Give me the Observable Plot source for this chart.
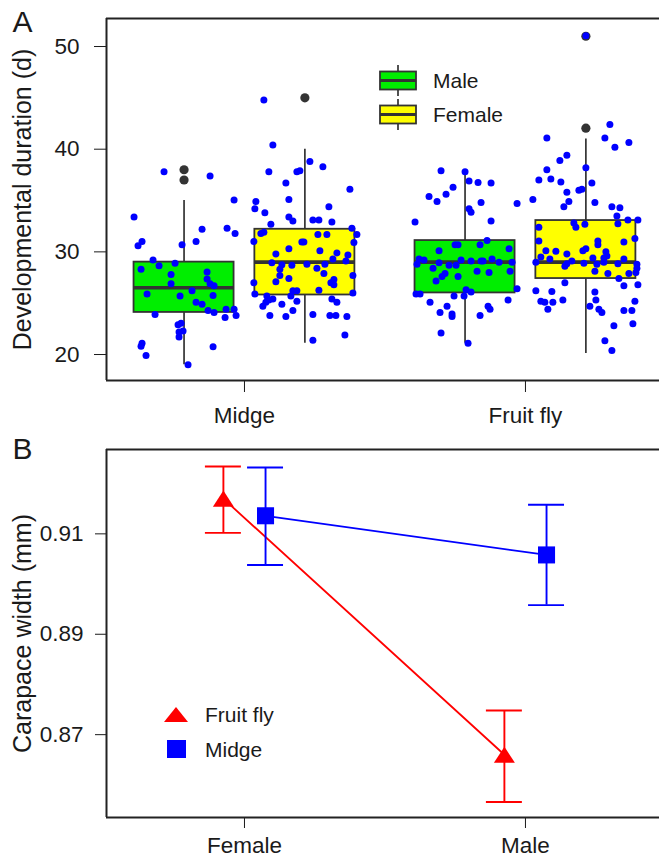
<!DOCTYPE html>
<html>
<head>
<meta charset="utf-8">
<script src="https://cdn.jsdelivr.net/npm/d3@7"></script>
<script src="https://cdn.jsdelivr.net/npm/@observablehq/plot@0.6"></script>
<style>
  body { margin: 0; background: #fff; }
  #chart { width: 659px; }
  #chart svg { display: block; }
</style>
</head>
<body>
<div id="chart"></div>
<script>
// ---------------- Panel A data ----------------
const species = ["Midge", "Fruit fly"];
const sexes = ["Male", "Female"];

const boxSpecies = ["Midge", "Midge", "Fruit fly", "Fruit fly"];
const boxSex = ["Male", "Female", "Male", "Female"];
const q1 = [24.1, 25.8, 26.0, 27.4];
const median = [26.5, 29.0, 29.0, 29.0];
const q3 = [29.0, 32.2, 31.1, 33.05];
const whiskerLow = [19.0, 21.1, 21.1, 20.1];
const whiskerHigh = [35.0, 40.0, 37.8, 41.0];
const outliers = [[37.0, 38.0], [45.0], [], [42.05, 51.0]];

const midgeMaleDays = [37.8,37.4,35.05,33.4,32.2,32.3,31.8,31.0,30.6,31.0,30.7,29.2,28.9,28.65,28.3,27.8,28.05,27.35,26.9,26.9,26.7,25.9,25.7,26.2,25.75,25.1,24.9,24.3,24.1,24.4,24.4,23.6,23.8,23.9,23.05,22.9,22.3,22.2,21.7,21.1,20.8,19.9,20.75,19.0];
const midgeMaleJitter = [-0.20,0.26,0.50,-0.50,0.18,0.43,0.51,-0.42,-0.46,0.12,-0.02,-0.31,-0.09,-0.25,-0.43,-0.13,0.23,0.23,-0.13,0.26,0.30,-0.37,-0.04,0.08,0.29,0.12,0.18,0.24,0.30,0.42,0.50,0.41,0.52,-0.29,-0.03,-0.06,-0.01,-0.05,-0.05,-0.42,-0.43,-0.38,0.29,0.04];

const midgeFemaleDays = [44.8,40.4,38.8,38.3,37.8,37.8,37.9,36.7,36.1,35.1,
  34.9,34.2,33.8,34.4,33.4,33.0,32.7,33.1,33.1,32.9,
  32.3,31.7,30.9,31.8,31.9,31.0,31.7,31.7,30.95,30.95,
  30.3,30.1,29.8,29.9,29.7,29.3,29.1,28.95,28.75,28.7,
  28.8,28.8,28.3,28.4,27.9,27.7,27.7,27.4,27.1,27.0,
  27.3,27.0,26.8,26.2,26.2,26.25,25.7,25.9,25.7,26.0,
  25.3,25.4,25.2,25.1,24.7,24.9,25.4,25.1,24.3,23.8,
  23.7,23.9,23.8,23.8,23.7,21.9,21.4];
const midgeFemaleJitter = [-0.41,-0.32,0.05,0.18,-0.36,-0.08,-0.05,-0.19,0.45,-0.16,
  -0.49,-0.50,-0.40,0.24,-0.16,-0.12,-0.34,0.08,0.14,0.27,
  0.47,0.52,0.49,-0.44,-0.41,-0.51,0.13,0.22,-0.03,-0.01,
  -0.16,0.15,-0.29,0.32,0.43,0.28,0.41,-0.33,-0.23,-0.13,
  0.02,0.20,-0.25,0.12,0.19,-0.25,0.48,-0.16,-0.29,-0.51,
  0.29,0.26,0.29,-0.12,-0.08,0.14,-0.14,-0.50,-0.38,0.48,
  -0.36,-0.32,-0.08,-0.39,-0.42,-0.23,0.27,0.32,-0.12,-0.35,
  -0.19,0.08,0.25,0.31,0.42,0.40,0.08];

const flyMaleDays = [37.9,37.8,36.9,36.75,36.7,36.3,35.6,35.4,34.9,34.8,
  34.7,34.2,33.85,32.9,33.0,31.1,30.7,30.7,30.7,30.3,
  30.1,29.3,29.2,28.8,28.95,29.2,29.1,29.1,29.1,29.3,
  29.0,29.0,28.4,28.7,28.7,28.1,28.0,28.1,27.9,27.6,
  27.6,27.15,26.4,25.9,25.9,26.3,26.1,25.7,25.7,25.3,
  25.1,24.7,24.7,24.4,24.1,23.95,23.7,23.8,22.1,21.1];
const flyMaleJitter = [-0.24,0.00,0.04,0.13,0.26,-0.12,-0.19,-0.36,-0.28,0.16,
  0.52,0.04,0.06,-0.50,0.26,0.22,-0.10,-0.07,0.15,0.44,
  -0.26,-0.46,-0.41,-0.48,-0.26,-0.04,0.06,0.16,0.18,0.27,
  0.34,0.47,-0.32,-0.16,-0.09,0.12,0.24,0.45,-0.20,-0.23,
  -0.07,-0.29,0.52,-0.49,-0.45,0.01,0.06,-0.11,-0.01,0.43,
  -0.35,-0.18,0.23,0.25,-0.25,-0.13,-0.13,0.15,-0.24,0.03];

const flyFemaleDays = [42.4,41.1,41.1,40.2,40.65,39.4,38.9,38.0,38.2,37.0,
  37.1,36.8,36.7,35.8,36.0,36.1,35.1,34.9,34.4,34.8,
  34.4,34.3,33.5,33.1,33.1,32.75,32.8,32.7,32.4,32.4,
  31.05,31.3,30.95,31.05,30.7,30.1,30.3,30.1,30.05,29.8,
  30.0,29.6,29.4,29.4,29.3,29.5,29.3,29.0,29.1,28.85,
  28.6,28.9,28.8,29.0,28.85,28.8,28.4,28.0,27.9,28.1,
  27.9,27.4,26.7,26.8,27.0,26.2,26.15,26.1,25.2,25.1,
  25.1,25.3,25.3,24.4,24.7,24.4,24.1,24.3,24.3,25.2,
  22.8,23.0,21.35,20.4,51.05];
const flyFemaleJitter = [0.24,-0.39,0.19,0.29,0.43,-0.19,-0.26,-0.39,0.00,-0.47,
  -0.35,-0.25,0.06,-0.19,-0.07,-0.04,-0.53,-0.17,-0.22,0.09,
  0.26,0.34,0.31,0.42,0.52,0.32,-0.12,-0.01,-0.10,-0.47,
  -0.47,0.49,0.38,0.12,0.12,-0.03,0.00,-0.40,-0.30,-0.19,
  0.20,0.21,0.18,0.07,0.38,-0.45,-0.36,-0.50,-0.14,-0.19,
  -0.21,-0.02,0.11,0.18,0.32,0.51,0.51,0.50,0.43,0.09,
  0.22,0.33,0.38,0.52,-0.21,-0.50,-0.34,0.09,-0.45,-0.41,
  -0.33,-0.23,0.10,-0.38,0.04,0.13,0.16,0.38,0.46,0.49,
  0.28,0.47,0.19,0.26,0.00];

// ---------------- Panel B data ----------------
const sexCategories = ["Female", "Male"];
const seriesB = ["Fruit fly", "Midge"];
const flyWidth = [0.9170, 0.8660];
const flyLow = [0.9102, 0.8566];
const flyHigh = [0.9234, 0.8748];
const midgeWidth = [0.9136, 0.9058];
const midgeLow = [0.9038, 0.8958];
const midgeHigh = [0.9232, 0.9158];

// ---------------- Styling / layout ----------------
const FONT = "'Liberation Sans', Arial, Helvetica, sans-serif";
const INK = "#1a1a1a";
const GREEN = "#00ee00", YELLOW = "#ffff00", BLUE = "#0000ff", RED = "#ff0000";
const dodgeA = 0.215, boxW = 0.356;
const dodgeB = 0.075, capHalf = 0.064;
const xDomain = [0.509, 2.477];
const yDomainA = [17.47, 52.73];
const yDomainB = [0.8535, 0.9268];

// ---------------- Build tables ----------------
const center = (sp, sex) => species.indexOf(sp) + 1 + (sex === "Male" ? -dodgeA : dodgeA);
const boxes = boxSpecies.map((sp, i) => ({
  species: sp, sex: boxSex[i], cx: center(sp, boxSex[i]),
  q1: q1[i], median: median[i], q3: q3[i], lo: whiskerLow[i], hi: whiskerHigh[i]
}));
const outlierRows = boxes.flatMap((b, i) => outliers[i].map(v => ({cx: b.cx, v})));
const groups = [
  ["Midge", "Male", midgeMaleDays, midgeMaleJitter],
  ["Midge", "Female", midgeFemaleDays, midgeFemaleJitter],
  ["Fruit fly", "Male", flyMaleDays, flyMaleJitter],
  ["Fruit fly", "Female", flyFemaleDays, flyFemaleJitter]
];
const points = groups.flatMap(([sp, sex, days, jit]) =>
  days.map((v, i) => ({x: center(sp, sex) + jit[i] * boxW, v})));

// ---------------- Panel A ----------------
const plotA = Plot.plot({
  width: 659, height: 432,
  marginLeft: 106, marginRight: 0, marginTop: 18, marginBottom: 52,
  style: {fontFamily: FONT, fontSize: "22.5px", color: INK, background: "#fff", overflow: "visible"},
  x: {domain: xDomain, ticks: [1, 2], tickFormat: i => species[i - 1], tickSize: 12, tickPadding: 15, label: null},
  y: {domain: yDomainA, ticks: [20, 30, 40, 50], tickFormat: d => String(d), tickSize: 12, tickPadding: 15, label: null},
  marks: [
    Plot.ruleX(boxes, {x: "cx", y1: "q3", y2: "hi", stroke: "#333", strokeWidth: 1.7}),
    Plot.ruleX(boxes, {x: "cx", y1: "lo", y2: "q1", stroke: "#333", strokeWidth: 1.7}),
    Plot.rect(boxes, {x1: d => d.cx - boxW / 2, x2: d => d.cx + boxW / 2, y1: "q1", y2: "q3",
      fill: d => d.sex === "Male" ? GREEN : YELLOW, stroke: "#333", strokeWidth: 1.8}),
    Plot.ruleY(boxes, {y: "median", x1: d => d.cx - boxW / 2, x2: d => d.cx + boxW / 2, stroke: "#333", strokeWidth: 3.6}),
    Plot.dot(outlierRows, {x: "cx", y: "v", r: 4.6, fill: "#333", stroke: "none"}),
    Plot.dot(points, {x: "x", y: "v", r: 3.5, fill: BLUE, stroke: "none"}),
    Plot.ruleY([yDomainA[1]], {stroke: "#222", strokeWidth: 2}),
    Plot.ruleY([yDomainA[0]], {stroke: "#222", strokeWidth: 2}),
    Plot.ruleX([xDomain[0]], {stroke: "#222", strokeWidth: 2}),
    Plot.text(["Developmental duration (d)"], {text: d => d, frameAnchor: "left", dx: -84, rotate: -90,
      textAnchor: "middle", lineAnchor: "middle", fontSize: 25, fill: INK}),
    Plot.text(["A"], {text: d => d, frameAnchor: "top-left", dx: -84, dy: 4,
      textAnchor: "middle", lineAnchor: "middle", fontSize: 30, fill: INK})
  ]
});

// legend A (Male / Female box glyphs)
{
  const g = d3.select(plotA).append("g").attr("font-family", FONT).attr("font-size", 21)
    .attr("fill", INK).attr("text-anchor", "start");
  const fills = [GREEN, YELLOW];
  sexes.forEach((s, i) => {
    const top = 71.5 + i * 34, h = 18, cx = 398;
    g.append("line").attr("x1", cx).attr("x2", cx).attr("y1", top - 6.5).attr("y2", top + h + 6.5)
      .attr("stroke", "#333").attr("stroke-width", 1.7);
    g.append("rect").attr("x", cx - 18).attr("y", top).attr("width", 36).attr("height", h)
      .attr("fill", fills[i]).attr("stroke", "#333").attr("stroke-width", 1.8);
    g.append("line").attr("x1", cx - 18).attr("x2", cx + 18).attr("y1", top + h / 2).attr("y2", top + h / 2)
      .attr("stroke", "#333").attr("stroke-width", 3);
    g.append("text").attr("x", 433).attr("y", top + h / 2 + 7.5).attr("text-anchor", "start").text(s);
  });
}

// ---------------- Panel B ----------------
const centerB = (sp, i) => i + 1 + (sp === "Fruit fly" ? -dodgeB : dodgeB);
const rowsB = [
  ...sexCategories.map((s, i) => ({species: "Fruit fly", sex: s, x: centerB("Fruit fly", i), m: flyWidth[i], lo: flyLow[i], hi: flyHigh[i]})),
  ...sexCategories.map((s, i) => ({species: "Midge", sex: s, x: centerB("Midge", i), m: midgeWidth[i], lo: midgeLow[i], hi: midgeHigh[i]}))
];
const colorOf = sp => sp === "Fruit fly" ? RED : BLUE;

const flatTriangle = {
  draw(context, size) {
    const r = Math.sqrt(size / Math.PI);
    const hw = 1.75 * r, hh = 1.35 * r;
    context.moveTo(0, -hh);
    context.lineTo(hw, hh);
    context.lineTo(-hw, hh);
    context.closePath();
  }
};
const squareSym = {
  draw(context, size) {
    const r = Math.sqrt(size / Math.PI);
    const h = 1.42 * r;
    context.rect(-h, -h, 2 * h, 2 * h);
  }
};

const plotB = Plot.plot({
  width: 659, height: 425,
  marginLeft: 106, marginRight: 0, marginTop: 17, marginBottom: 40,
  style: {fontFamily: FONT, fontSize: "22.5px", color: INK, background: "#fff", overflow: "visible"},
  x: {domain: xDomain, ticks: [1, 2], tickFormat: i => sexCategories[i - 1], tickSize: 11, tickPadding: 9, label: null},
  y: {domain: yDomainB, ticks: [0.87, 0.89, 0.91], tickFormat: d3.format(".2f"), tickSize: 11, tickPadding: 12, label: null},
  marks: [
    Plot.line(rowsB, {x: "x", y: "m", z: "species", stroke: d => colorOf(d.species), strokeWidth: 1.8}),
    Plot.ruleX(rowsB, {x: "x", y1: "lo", y2: "hi", stroke: d => colorOf(d.species), strokeWidth: 1.9}),
    Plot.ruleY(rowsB, {y: "hi", x1: d => d.x - capHalf, x2: d => d.x + capHalf, stroke: d => colorOf(d.species), strokeWidth: 1.9}),
    Plot.ruleY(rowsB, {y: "lo", x1: d => d.x - capHalf, x2: d => d.x + capHalf, stroke: d => colorOf(d.species), strokeWidth: 1.9}),
    Plot.dot(rowsB.filter(d => d.species === "Fruit fly"), {x: "x", y: "m", r: 6, symbol: flatTriangle, fill: RED, stroke: "none"}),
    Plot.dot(rowsB.filter(d => d.species === "Midge"), {x: "x", y: "m", r: 6, symbol: squareSym, fill: BLUE, stroke: "none"}),
    Plot.ruleY([yDomainB[1]], {stroke: "#222", strokeWidth: 2}),
    Plot.ruleY([yDomainB[0]], {stroke: "#222", strokeWidth: 2}),
    Plot.ruleX([xDomain[0]], {stroke: "#222", strokeWidth: 2}),
    Plot.text(["Carapace width (mm)"], {text: d => d, frameAnchor: "left", dx: -84, rotate: -90,
      textAnchor: "middle", lineAnchor: "middle", fontSize: 25, fill: INK}),
    Plot.text(["B"], {text: d => d, frameAnchor: "top-left", dx: -84, dy: 0,
      textAnchor: "middle", lineAnchor: "middle", fontSize: 30, fill: INK})
  ]
});

// legend B
{
  const g = d3.select(plotB).append("g").attr("font-family", FONT).attr("font-size", 21)
    .attr("fill", INK).attr("text-anchor", "start");
  g.append("path").attr("d", "M176,275 L188,290 L164,290 Z").attr("fill", RED);
  g.append("text").attr("x", 205).attr("y", 290).attr("text-anchor", "start").text(seriesB[0]);
  g.append("rect").attr("x", 167).attr("y", 308).attr("width", 19).attr("height", 18).attr("fill", BLUE);
  g.append("text").attr("x", 205).attr("y", 325).attr("text-anchor", "start").text(seriesB[1]);
}

const chart = document.getElementById("chart");
chart.appendChild(plotA);
chart.appendChild(plotB);
</script>
</body>
</html>
